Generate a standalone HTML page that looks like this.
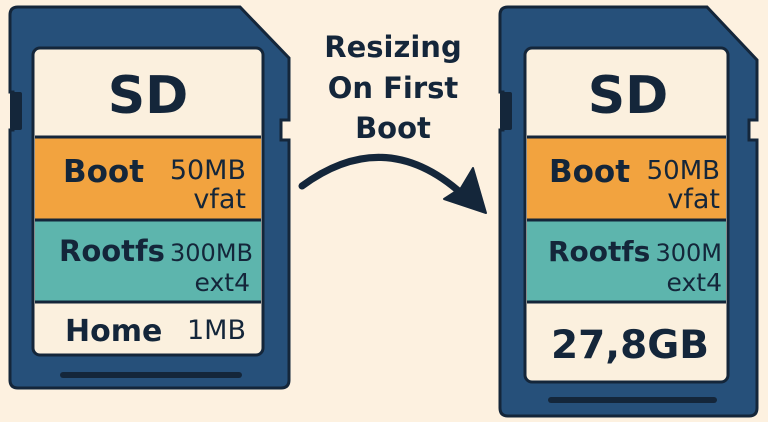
<!DOCTYPE html>
<html><head><meta charset="utf-8"><style>
html,body{margin:0;padding:0;background:#fdf1e0;}
svg{display:block}
text{font-family:"DejaVu Sans","Liberation Sans",sans-serif;fill:#14263a;font-weight:bold}
.n{font-weight:normal}
</style></head><body>
<svg width="768" height="422" viewBox="0 0 768 422">
<rect width="768" height="422" fill="#fdf1e0"/>
<path d="M18,7 H240 L289,58 V120 H281 V140 H289 V380 Q289,388 281,388 H18 Q10,388 10,380 V130 H13 V92 H10 V15 Q10,7 18,7 Z" fill="#26507a" stroke="#14263a" stroke-width="3"/>
<rect x="10" y="92" width="12" height="38" rx="2" fill="#14263a"/>
<rect x="33" y="48" width="230" height="307" rx="7" fill="#fbf0de" stroke="#14263a" stroke-width="3"/>
<rect x="35" y="137" width="226" height="83" fill="#f2a33f"/>
<rect x="35" y="220" width="226" height="82" fill="#5db5ad"/>
<line x1="35" y1="137" x2="261" y2="137" stroke="#14263a" stroke-width="3"/>
<line x1="35" y1="220" x2="261" y2="220" stroke="#14263a" stroke-width="3"/>
<line x1="35" y1="302" x2="261" y2="302" stroke="#14263a" stroke-width="3"/>
<rect x="60" y="372" width="182" height="6" rx="3" fill="#14263a"/>
<text x="148" y="113" font-size="52" text-anchor="middle">SD</text>
<text x="63" y="182" font-size="31">Boot</text>
<text x="246" y="179" font-size="27" class="n" text-anchor="end">50MB</text>
<text x="246" y="208" font-size="27" class="n" text-anchor="end">vfat</text>
<text x="59" y="261" font-size="29">Rootfs</text>
<text x="253" y="261" font-size="24" class="n" text-anchor="end">300MB</text>
<text x="250" y="291" font-size="25" class="n" text-anchor="end">ext4</text>
<text x="65" y="341" font-size="30">Home</text>
<text x="246" y="339" font-size="27" class="n" text-anchor="end">1MB</text>
<path d="M508,7 H707 L757,60 V120 H749 V140 H757 V408 Q757,416 749,416 H508 Q500,416 500,408 V130 H503 V92 H500 V15 Q500,7 508,7 Z" fill="#26507a" stroke="#14263a" stroke-width="3"/>
<rect x="500" y="92" width="12" height="38" rx="2" fill="#14263a"/>
<rect x="525" y="48" width="203" height="334" rx="7" fill="#fbf0de" stroke="#14263a" stroke-width="3"/>
<rect x="527" y="137" width="199" height="83" fill="#f2a33f"/>
<rect x="527" y="220" width="199" height="82" fill="#5db5ad"/>
<line x1="527" y1="137" x2="726" y2="137" stroke="#14263a" stroke-width="3"/>
<line x1="527" y1="220" x2="726" y2="220" stroke="#14263a" stroke-width="3"/>
<line x1="527" y1="302" x2="726" y2="302" stroke="#14263a" stroke-width="3"/>
<rect x="548" y="397" width="169" height="6" rx="3" fill="#14263a"/>
<text x="628" y="113" font-size="52" text-anchor="middle">SD</text>
<text x="549" y="182" font-size="31">Boot</text>
<text x="720" y="179" font-size="26" class="n" text-anchor="end">50MB</text>
<text x="720" y="208" font-size="27" class="n" text-anchor="end">vfat</text>
<text x="548" y="261" font-size="28">Rootfs</text>
<text x="722" y="261" font-size="24" class="n" text-anchor="end">300M</text>
<text x="722" y="291" font-size="25" class="n" text-anchor="end">ext4</text>
<text x="630" y="358" font-size="39" text-anchor="middle">27,8GB</text>
<text x="393" y="57" font-size="29" text-anchor="middle">Resizing</text>
<text x="393" y="98" font-size="29" text-anchor="middle">On First</text>
<text x="393" y="138" font-size="29" text-anchor="middle">Boot</text>
<path d="M302,186 Q385,125 462,194" fill="none" stroke="#14263a" stroke-width="7" stroke-linecap="round"/>
<path d="M486,213 L444,199 L461,188 L473,168 Z" fill="#14263a" stroke="#14263a" stroke-width="2" stroke-linejoin="round"/>
</svg>
</body></html>
